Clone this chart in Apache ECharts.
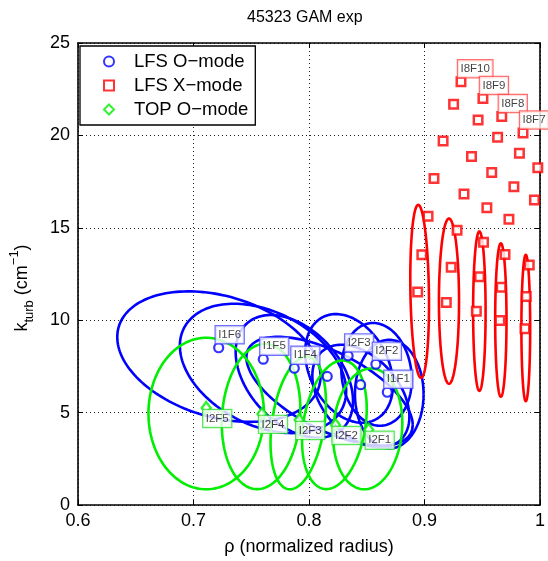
<!DOCTYPE html>
<html><head><meta charset="utf-8">
<script src="https://cdn.jsdelivr.net/npm/echarts@6/dist/echarts.min.js"></script>
<style>html,body{margin:0;padding:0;background:#fff}#c{width:548px;height:561px}</style>
</head><body><div id="c"></div>
<script>
// ---- tick labels ----
const xTickLabels = ['0.6', '0.7', '0.8', '0.9', '1'];
const yTickLabels = ['0', '5', '10', '15', '20', '25'];

// ---- LFS O-mode (blue circles) ----
const blueX = [0.7218, 0.7604, 0.7873, 0.8158, 0.8339, 0.8447, 0.8579, 0.8678];
const blueY = [8.51, 7.89, 7.40, 6.96, 8.07, 6.51, 7.62, 6.10];
const blueLabels = ['I1F6', 'I1F5', 'I1F4', '', 'I2F3', '', 'I2F2', 'I1F1'];
// blue ellipses: centre x, centre y, half width, half height, correlation
const blueEllCx = [0.7220, 0.7602, 0.7873, 0.8178, 0.8347, 0.8449, 0.8585, 0.8695];
const blueEllCy = [8.03, 7.39, 6.96, 6.16, 7.39, 5.89, 7.07, 6.00];
const blueEllSx = [0.088, 0.072, 0.0508, 0.072, 0.038, 0.042, 0.0305, 0.0297];
const blueEllSy = [3.53, 3.50, 3.32, 2.94, 2.94, 2.78, 2.78, 2.94];
const blueEllRho = [-0.3, -0.35, -0.4, -0.62, -0.3, -0.4, -0.1, 0.0];

// ---- TOP O-mode (green diamonds) ----
const greenX = [0.7110, 0.7593, 0.7915, 0.8229, 0.8517];
const greenY = [5.25, 4.93, 4.60, 4.33, 4.07];
const greenLabels = ['I2F5', 'I2F4', 'I2F3', 'I2F2', 'I2F1'];
const greenEllCx = [0.7110, 0.7585, 0.7907, 0.8220, 0.8508];
const greenEllCy = [4.95, 4.79, 4.44, 4.34, 4.12];
const greenEllSx = [0.050, 0.034, 0.024, 0.028, 0.030];
const greenEllSy = [4.10, 3.93, 3.59, 3.48, 3.27];
const greenEllRho = [0.0, 0.1, 0.3, 0.25, 0.1];

// ---- LFS X-mode (red squares) ----
const redX = [
  0.9316, 0.9506, 0.9669, 0.9853,
  0.9252, 0.9464, 0.9633, 0.9822, 0.9981,
  0.9161, 0.9407, 0.9582, 0.9774, 0.9952,
  0.9082, 0.9342, 0.9540, 0.9731,
  0.9031, 0.9282, 0.9511, 0.9697, 0.9907,
  0.8977, 0.9231, 0.9477, 0.9664, 0.9881,
  0.8941, 0.9189, 0.9449, 0.9653, 0.9870
];
const redY = [
  22.90, 22.00, 21.02, 20.13,
  21.68, 20.84, 19.90, 19.04, 18.25,
  19.70, 18.86, 17.99, 17.22, 16.50,
  17.67, 16.83, 16.09, 15.46,
  15.62, 14.87, 14.22, 13.56, 12.99,
  13.54, 12.86, 12.35, 11.78, 11.28,
  11.53, 10.96, 10.48, 9.99, 9.54
];
const redLabels = ['I8F10', 'I8F9', 'I8F8', 'I8F7'];
const redEllCx = [0.8958, 0.9212, 0.9475, 0.9661, 0.9877];
const redEllCy = [11.56, 11.03, 10.49, 10.01, 9.58];
const redEllSx = [0.0081, 0.0087, 0.0054, 0.0049, 0.0038];
const redEllSy = [4.68, 4.47, 4.31, 4.15, 3.96];
const redEllRho = [-0.15, 0.0, 0.0, 0.0, 0.0];

const FONT = '"Liberation Sans", Arial, Helvetica, sans-serif';
const BLUE = '#0000ff', RED = '#ff0000', GREEN = '#00ee00';

function ellData(cx, cy, sx, sy, rho) {
  return cx.map((v, i) => [v, cy[i], sx[i], sy[i], rho[i]]);
}
function ellRender(color) {
  return function (params, api) {
    const cx = api.value(0), cy = api.value(1), sx = api.value(2), sy = api.value(3), r = api.value(4);
    const s = Math.sqrt(1 - r * r);
    const pts = [];
    for (let i = 0; i <= 160; i++) {
      const t = i / 160 * 2 * Math.PI;
      pts.push(api.coord([cx + sx * Math.cos(t), cy + sy * (r * Math.cos(t) + s * Math.sin(t))]));
    }
    return { type: 'polyline', shape: { points: pts }, style: { stroke: color, lineWidth: 2.6, fill: null } };
  };
}
function ellSeries(name, data, color) {
  return {
    type: 'custom', name: name, data: data, renderItem: ellRender(color),
    encode: { x: 0, y: 1 }, clip: true, silent: true, z: 2
  };
}
function labelStyle(border, dy) {
  return {
    position: 'inside', offset: [-3, dy], align: 'left', verticalAlign: 'middle',
    backgroundColor: '#fff', borderColor: border, borderWidth: 1.2,
    padding: [3, 2.5, 2, 2.5], fontSize: 11.5, color: '#111', fontFamily: FONT
  };
}
function pts(xs, ys, labels) {
  return xs.map((x, i) => ({ value: [x, ys[i]], label: { show: !!(labels[i]) } }));
}

const chart = echarts.init(document.getElementById('c'), null, { renderer: 'canvas' });
const axisCommon = {
  axisLine: { show: true, onZero: false, lineStyle: { color: '#000', width: 1.6 } },
  axisTick: { show: true, inside: true, length: 5, lineStyle: { color: '#000', width: 1 } }
};
chart.setOption({
  animation: false,
  backgroundColor: '#fff',
  title: {
    text: '45323 GAM exp', left: 242, top: 5,
    textStyle: { fontSize: 16, fontWeight: 'normal', color: '#000', fontFamily: FONT }
  },
  grid: { left: 73.5, right: 4, top: 43, bottom: 51, containLabel: false },
  legend: {
    orient: 'vertical', left: 80, top: 46,
    data: ['LFS O\u2212mode', 'LFS X\u2212mode', 'TOP O\u2212mode'],
    backgroundColor: '#fff', borderColor: '#000', borderWidth: 1.3,
    padding: [6, 7, 6, 23], itemWidth: 10, itemHeight: 10, itemGap: 5,
    formatter: name => '{s|}{t|' + name + '}',
    textStyle: {
      fontSize: 18.5, lineHeight: 18, color: '#000', fontFamily: FONT,
      rich: {
        s: { width: 15, fontSize: 18.5, lineHeight: 18 },
        t: { fontSize: 18.5, lineHeight: 18, color: '#000', fontFamily: FONT }
      }
    }
  },
  xAxis: [
    Object.assign({}, axisCommon, {
      type: 'value', position: 'bottom', min: 0.6, max: 1, interval: 0.1,
      name: '\u03c1 (normalized radius)', nameLocation: 'middle', nameGap: 33,
      nameTextStyle: { fontSize: 18, color: '#000', fontFamily: FONT },
      axisLabel: {
        margin: 7, fontSize: 18, color: '#000', fontFamily: FONT,
        formatter: v => xTickLabels[Math.round((v - 0.6) / 0.1)]
      },
      splitLine: { show: true, lineStyle: { color: '#222', type: [1, 3], width: 1 } }
    }),
    Object.assign({}, axisCommon, {
      type: 'value', position: 'top', min: 0.6, max: 1, interval: 0.1,
      axisLabel: { show: false }, splitLine: { show: false }
    })
  ],
  yAxis: [
    Object.assign({}, axisCommon, {
      type: 'value', position: 'left', min: 0, max: 25, interval: 5,
      name: '{a|k}{sub|turb}{a| (cm}{sup|\u22121}{a|)}', nameLocation: 'middle', nameGap: 42,
      nameTextStyle: {
        fontSize: 18, color: '#000', fontFamily: FONT, padding: [0, 0, 0, -28],
        rich: {
          a: { fontSize: 18, lineHeight: 28, verticalAlign: 'middle', fontFamily: FONT, color: '#000' },
          sub: { fontSize: 13, lineHeight: 28, verticalAlign: 'bottom', fontFamily: FONT, color: '#000' },
          sup: { fontSize: 13, lineHeight: 28, verticalAlign: 'top', fontFamily: FONT, color: '#000' }
        }
      },
      axisLabel: {
        margin: 8, fontSize: 18, color: '#000', fontFamily: FONT,
        formatter: v => yTickLabels[Math.round(v / 5)]
      },
      splitLine: { show: true, lineStyle: { color: '#222', type: [1, 3], width: 1 } }
    }),
    Object.assign({}, axisCommon, {
      type: 'value', position: 'right', min: 0, max: 25, interval: 5,
      axisLabel: { show: false }, splitLine: { show: false }
    })
  ],
  series: [
    ellSeries('blueEll', ellData(blueEllCx, blueEllCy, blueEllSx, blueEllSy, blueEllRho), BLUE),
    ellSeries('greenEll', ellData(greenEllCx, greenEllCy, greenEllSx, greenEllSy, greenEllRho), GREEN),
    ellSeries('redEll', ellData(redEllCx, redEllCy, redEllSx, redEllSy, redEllRho), RED),
    {
      type: 'scatter', name: 'LFS O\u2212mode', z: 4,
      data: pts(blueX, blueY, blueLabels),
      symbol: 'circle', symbolSize: 9,
      itemStyle: { color: '#fff', borderColor: BLUE, borderWidth: 2.2 },
      label: Object.assign(labelStyle('#4a4aff', -13), {
        formatter: p => blueLabels[p.dataIndex]
      })
    },
    {
      type: 'scatter', name: 'LFS X\u2212mode', z: 4,
      data: pts(redX, redY, redLabels),
      symbol: 'rect', symbolSize: 8.5,
      itemStyle: { color: '#fff', borderColor: RED, borderWidth: 2.5 },
      label: Object.assign(labelStyle('#ff4a4a', -13), {
        formatter: p => redLabels[p.dataIndex] || ''
      })
    },
    {
      type: 'scatter', name: 'TOP O\u2212mode', z: 4,
      data: pts(greenX, greenY, greenLabels),
      symbol: 'diamond', symbolSize: [9, 12],
      itemStyle: { color: '#fff', borderColor: GREEN, borderWidth: 2.4 },
      label: Object.assign(labelStyle('#33e033', 10.5), {
        formatter: p => greenLabels[p.dataIndex]
      })
    }
  ]
});
</script>
</body></html>
